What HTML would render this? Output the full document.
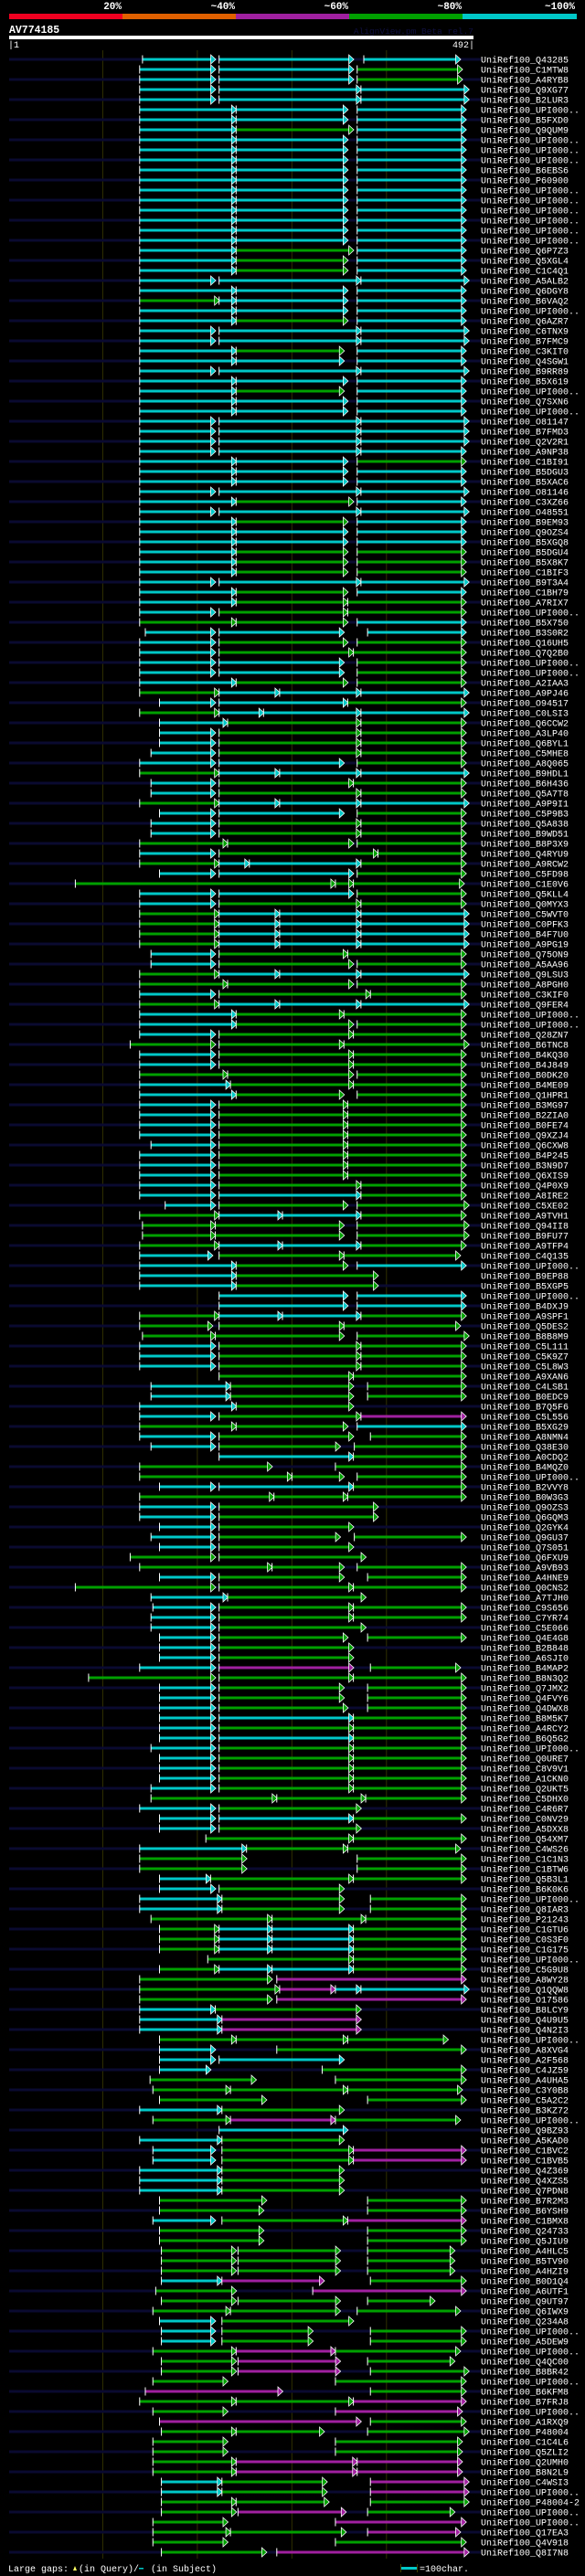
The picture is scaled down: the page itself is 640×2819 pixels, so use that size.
<!DOCTYPE html>
<html><head><meta charset="utf-8"><title>AV774185 alignment view</title>
<style>
html,body{margin:0;padding:0;background:#000;}
svg{display:block;}
text{font-family:"Liberation Mono","DejaVu Sans Mono",monospace;}
</style></head>
<body>
<svg id="chart" xmlns="http://www.w3.org/2000/svg" width="640" height="2819" viewBox="0 0 640 2819">
<rect x="0" y="0" width="640" height="2819" fill="#000"/>
<g>
<text x="133" y="10" fill="#fff" font-size="11" font-weight="bold" text-anchor="end">20%</text>
<text x="257" y="10" fill="#fff" font-size="11" font-weight="bold" text-anchor="end">~40%</text>
<text x="381" y="10" fill="#fff" font-size="11" font-weight="bold" text-anchor="end">~60%</text>
<text x="505" y="10" fill="#fff" font-size="11" font-weight="bold" text-anchor="end">~80%</text>
<text x="629" y="10" fill="#fff" font-size="11" font-weight="bold" text-anchor="end">~100%</text>
<rect x="10" y="15" width="124" height="6" fill="#f00020"/>
<rect x="134" y="15" width="124" height="6" fill="#e06000"/>
<rect x="258" y="15" width="124" height="6" fill="#a020a0"/>
<rect x="382" y="15" width="124" height="6" fill="#00a000"/>
<rect x="506" y="15" width="125" height="6" fill="#00c8c8"/>
</g>
<text x="10" y="36" fill="#fff" font-size="11.5" font-weight="bold">AV774185</text>
<text x="518" y="37" fill="#101040" font-size="9.5" text-anchor="end">AlignView.pm Beta rel.7</text>
<rect x="10" y="39" width="508" height="4" fill="#fff"/>
<text x="9" y="52" fill="#fff" font-size="10">|1</text>
<text x="519" y="52" fill="#fff" font-size="10" text-anchor="end">492|</text>
<g id="grid"></g>
<g id="rows"></g>
<g>
<text x="9" y="2814" fill="#fff" font-size="10">Large gaps:</text>
<polygon points="80,2813 82,2808 84,2813" fill="#ffff60"/>
<text x="86" y="2814" fill="#fff" font-size="10">(in Query)/</text>
<rect x="152" y="2810" width="5" height="1.5" fill="#00c8c8"/>
<text x="165" y="2814" fill="#fff" font-size="10">(in Subject)</text>
<rect x="438" y="2809" width="19" height="3" fill="#00c8c8"/>
<rect x="438" y="2806" width="1" height="9" fill="#404000"/>
<rect x="456" y="2806" width="1" height="9" fill="#404000"/>
<text x="459" y="2814" fill="#fff" font-size="10">=100char.</text>
</g>
</svg>
<script>
const queryLength = 492;
const gridPositions = [100, 200, 300, 400];
const labels = ["Q43285","C1MTW8","A4RYB8","Q9XG77","B2LUR3","UPI000..","B5FXD0","Q9QUM9","UPI000..","UPI000..","UPI000..","B6EBS6","P60900","UPI000..","UPI000..","UPI000..","UPI000..","UPI000..","UPI000..","Q6P7Z3","Q5XGL4","C1C4Q1","A5ALB2","Q6DGY8","B6VAQ2","UPI000..","Q6AZR7","C6TNX9","B7FMC9","C3KIT0","Q4SGW1","B9RR89","B5X619","UPI000..","Q7SXN6","UPI000..","O81147","B7FMD3","Q2V2R1","A9NP38","C1BI91","B5DGU3","B5XAC6","O81146","C3XZ66","O48551","B9EM93","Q9OZS4","B5XGQ8","B5DGU4","B5X8K7","C1BIF3","B9T3A4","C1BH79","A7RIX7","UPI000..","B5X750","B3S0R2","Q16UH5","Q7Q2B0","UPI000..","UPI000..","A2IAA3","A9PJ46","O94517","C0LSI3","Q6CCW2","A3LP40","Q6BYL1","C5MHE8","A8Q065","B9HDL1","B6H436","Q5A7T8","A9P9I1","C5P9B3","Q5A838","B9WD51","B8P3X9","Q4RYU9","A9RCW2","C5FD98","C1E0V6","Q5KLL4","Q0MYX3","C5WVT0","C0PFK3","B4F7U0","A9PG19","Q75ON9","A5AA96","Q9LSU3","A8PGH0","C3KIF0","Q9FER4","UPI000..","UPI000..","Q28ZN7","B6TNC8","B4KQ30","B4J849","B0DK20","B4ME09","Q1HPR1","B3MG97","B2ZIA0","B0FE74","Q9XZJ4","Q6CXW8","B4P245","B3N9D7","Q6XIS9","Q4P0X9","A8IRE2","C5XE02","A9TVH1","Q94II8","B9FU77","A9TFP4","C4Q135","UPI000..","B9EP88","B5XGP5","UPI000..","B4DXJ9","A9SPF1","Q5DES2","B8B8M9","C5L111","C5K9Z7","C5L8W3","A9XAN6","C4LSB1","B0EDC9","B7Q5F6","C5L556","B5XG29","A8NMN4","Q38E30","A0CDQ2","B4MQZ0","UPI000..","B2VVY8","B0W3G3","Q9OZS3","Q6GQM3","Q2GYK4","Q9GU37","Q7S051","Q6FXU9","A9VB93","A4HNE9","Q0CNS2","A7TJH0","C9S656","C7YR74","C5E066","Q4E4G8","B2B848","A6SJI0","B4MAP2","B8N3Q2","Q7JMX2","Q4FVY6","Q4DWX8","B8M5K7","A4RCY2","B6Q5G2","UPI000..","Q0URE7","C8V9V1","A1CKN0","Q2UKT5","C5DHX0","C4R6R7","C0NV29","A5DXX8","Q54XM7","C4WS26","C1C1N3","C1BTW6","Q5B3L1","B6K0K6","UPI000..","Q8IAR3","P21243","C1GTU6","C0S3F0","C1G175","UPI000..","C5G9U8","A8WY28","Q1QQW8","O17586","B8LCY9","Q4U9U5","Q4N2I3","UPI000..","A8XVG4","A2F568","C4JZ59","A4UHA5","C3Y0B8","C5A2C2","B3KZ72","UPI000..","Q9BZ93","A5KAD0","C1BVC2","C1BVB5","Q4Z369","Q4XZS5","Q7PDN8","B7R2M3","B6YSH9","C1BMX8","Q24733","Q5JIU9","A4HLC5","B5TV90","A4HZI9","B0D1Q4","A6UTF1","Q9UT97","Q6IWX9","Q234A8","UPI000..","A5DEW9","UPI000..","Q4QC00","B8BR42","UPI000..","B6KFM8","B7FRJ8","UPI000..","A1RXQ9","P48004","C1C4L6","Q5ZLI2","Q2UMH0","B8N2L9","C4WSI3","UPI000..","P48004-2","UPI000..","UPI000..","Q17EA3","Q4V918","Q8I7N8"];
const alignments = [
"142-219c 223-365c 376-478c","139-219c 223-365c 369-480g","139-219c 223-365c 369-480g","139-219c 223-373c 373-487c","139-219c 223-373c 373-487c","139-241c 241-359c 369-484c","139-241c 241-359c 369-484c","139-241c 241-365g 369-484c",
"139-241c 241-359c 369-484c","139-241c 241-359c 369-484c","139-241c 241-359c 369-484c","139-241c 241-359c 369-484c","139-241c 241-359c 369-484c","139-241c 241-359c 369-484c","139-241c 241-359c 369-484c","139-241c 241-359c 369-484c","139-241c 241-359c 369-484c","139-241c 241-359c 369-484c","139-241c 241-359c 369-484c",
"139-241c 241-365g 369-484c","139-241c 241-359g 369-484c","139-241c 241-359g 369-484c","139-219c 223-373c 373-487c","139-241c 241-359c 369-484c","139-223g 223-241c 241-359c 369-484c","139-241c 241-359c 369-484c","139-241c 241-359g 369-484c","139-219c 223-373c 373-487c","139-219c 223-373c 373-487c",
"139-241c 241-355g 369-484c","139-241c 241-355c 369-484c","139-219c 223-373c 373-487c","139-241c 241-359c 369-484c","139-241c 241-355g 369-484c","139-241c 241-359c 369-484c","139-241c 241-359c 369-484c","139-219c 223-373c 373-487c","139-219c 223-373c 373-487c","139-219c 223-373c 373-487c","139-219c 223-373c 373-484c",
"139-241c 241-359c 369-484g","139-241c 241-359c 369-484c","139-241c 241-359c 369-484c","139-219c 223-373c 373-487c","139-241c 241-365g 369-484c","139-219c 223-373c 373-487c","139-241c 241-359g 369-484c","139-241c 241-359c 369-484c","139-241c 241-359c 369-484c",
"139-241c 241-359g 369-484g","139-241c 241-359g 369-484g","139-241c 241-359g 369-484g","139-219c 223-373c 373-487c","139-241c 241-359g 369-484c","139-241c 241-359g 359-484g","139-219c 223-359g 359-484g","139-241g 241-359g 369-484c","145-219c 223-355c 380-484c","139-219c 223-359g 369-484g","139-219c 223-365g 365-484g",
"139-219c 223-355c 369-484g","139-219c 223-355c 369-484g","139-241c 241-359g 369-484g","139-223g 223-287c 287-373c 373-487c","160-219c 223-359c 359-484g","139-223g 223-270c 270-373c 373-487c","160-232c 232-373g 373-484g","160-219c 223-373g 373-484g","160-219c 223-373g 373-484g","151-219c 223-373g 373-484g",
"139-219c 223-355c 369-484g","139-223g 223-287c 287-373c 373-487c","151-219c 223-365g 365-484g","151-219c 223-373g 373-484g","139-223g 223-287c 287-373c 373-487c","160-219c 223-355c 369-484g","151-219c 223-373g 373-484g","151-219c 223-373g 373-484g","139-232g 232-365g 369-484g","139-219c 223-391g 391-484g",
"139-223g 223-255c 255-373c 373-484g","160-219c 223-365c 369-484g","71-346g 346-365g 365-482g","139-219c 223-365c 369-484g","139-219c 223-373g 373-484g","139-223g 223-287c 287-373c 373-487c","139-223g 223-287c 287-373c 373-487c","139-223g 223-287c 287-373c 373-487c","139-223g 223-287c 287-373c 373-487c",
"151-219c 223-359g 359-484g","151-219c 223-365g 369-484g","139-223g 223-287c 287-373c 373-487c","139-232g 232-365g 369-484g","139-219c 223-383g 383-484g","139-223g 223-287c 287-373c 373-487c","139-241c 241-355g 355-484g","139-241c 241-365g 369-484g","139-219c 223-365g 365-484g","129-219g 223-355g 355-487g",
"139-219c 223-365g 365-484g","139-219c 223-365g 365-484g","139-232g 232-365g 369-484g","139-235c 235-365g 365-484g","139-241c 241-355g 369-484g","139-219c 223-359g 359-484g","139-219c 223-359g 359-484g","139-219c 223-359g 359-484g","139-219c 223-359g 359-484g","151-219c 223-359g 359-484g",
"139-219c 223-359g 359-484g","139-219c 223-359g 359-484g","139-219c 223-359g 359-484g","139-219c 223-373g 373-484g","139-219c 223-373c 373-484g","166-219c 223-359g 369-487g","139-223g 223-290c 290-373c 373-484g","142-219g 219-355g 369-487g","142-219g 219-355g 369-487g","139-223g 223-290c 290-373c 373-484g",
"139-216c 223-355g 355-478g","139-241c 241-359g 369-484c","139-241c 241-391g","139-241c 241-391g","223-359c 369-484c","223-359c 369-484c","139-223g 223-290c 290-373c 373-484g","139-216g 223-355g 355-478g","142-219g 219-355g 369-487g","139-219c 223-373g 373-484g",
"139-219c 223-373g 373-484g","139-219c 223-373g 373-484g","223-365g 365-484g","151-235c 235-365g 380-484g","151-235c 235-365g 380-484g","139-241c 241-365g","139-219c 223-373g 373-484m","139-241g 241-359g 369-484c","139-219c 223-365g 383-484g","151-219c 223-351g 366-484g",
"223-365c 365-484g","139-279g 346-484g","139-300g 300-355g 369-484g","160-219c 223-365c 365-484g","139-281g 281-359g 359-484g","139-219c 223-391g","139-219c 223-391g","160-219c 223-365g","151-219c 223-351g 366-484g","160-219c 223-365g",
"129-219g 223-378g","139-279g 279-355g 369-484g","160-219c 223-355g 380-484g","71-219g 223-365g 365-484g","151-232c 232-378g","153-219c 223-365g 365-484g","151-219c 223-365g 365-484g","151-219c 223-378g","160-219c 223-359g 380-484g","160-219c 223-365g",
"160-219c 223-365g","139-219c 223-365m 383-478g","85-219g 223-365g 365-484g","160-219c 223-355g 380-484g","160-219c 223-355g 380-484g","160-219c 223-359g 380-484g","160-219c 223-365c 365-484g","160-219c 223-365g 365-484g","160-219c 223-365c 365-484g","151-219c 223-365g 365-484g",
"160-219c 223-365g 365-484g","160-219c 223-365g 365-484g","160-219c 223-365g 365-484g","151-219c 223-365g 365-484g","151-284g 284-378g 378-484g","139-219c 223-373g","160-219c 223-365c 365-484g","160-219c 223-373g","209-365g 365-484g","139-252c 252-359g 359-478g",
"139-252g 369-484g","139-252g 369-484g","160-214c 214-365g 365-484g","160-219c 223-355g","139-226c 226-355g 383-484g","139-226c 226-355g 383-484g","151-279g 279-378g 378-484g","160-223g 223-279c 279-365c 365-484g","160-223g 223-279c 279-365c 365-484g","160-223g 223-279c 279-365c 365-484g",
"211-365g 365-484g","160-223g 223-279c 279-365c 365-484g","139-279g 284-484m","139-287g 287-346m 346-373c 373-487c","139-279g 284-484m","139-219c 219-373g","139-226c 226-373m","139-226c 226-373m","160-241g 241-359g 359-465g","160-219c 284-484g",
"160-219c 223-355c","160-214c 332-484g","150-262g 346-484g","153-235g 235-359g 359-480g","160-273g 380-484g","139-226c 226-355g","153-235g 235-346m 346-478g","223-359c","139-226c 226-355g","153-219c 226-365g 365-484m",
"153-219c 226-365g 365-484m","139-226c 226-355g","139-226c 226-355g","139-226c 226-355g","160-273g 380-484g","160-270g 380-484g","153-219c 226-359g 359-484m","160-270g 380-484g","160-270g 380-484g","162-241g 243-351g 380-472g",
"162-241g 243-351g 380-472g","162-241g 243-351g 380-472g","162-226c 226-334m 383-484g","156-241g 322-484m","162-241g 243-351g 380-451g","153-235g 235-351g 369-478g","160-219c 226-365g","162-219c 226-322g 383-484g","162-219c 226-322g 383-484g","153-241g 241-346m 346-478g",
"162-241g 243-351m 380-472g","162-241g 243-351m 383-487g","153-232g 346-484g","145-290m 383-484g","139-241g 241-365g 365-484m","153-232g 346-480m","160-373m 383-484g","162-241g 241-334g 380-487g","153-232g 346-480g","153-232g 346-480g",
"153-241g 241-369m 369-480m","153-241g 241-369m 369-480m","162-226c 226-337g 383-487m","162-226c 226-337g 383-487m","162-241g 241-339g 383-487g","162-241g 243-357m 380-472g","153-232g 346-484m","153-235g 235-357g 380-478m","153-232g 346-484g","162-273g 284-487m"
];
const colorMap = {c:"#00c8c8", g:"#00a000", m:"#a020a0"};
const NS = "http://www.w3.org/2000/svg";
const X0 = 10, X1 = 518, ROW0 = 65, PITCH = 11, LABEL_X = 526;
function xScale(p){ return X0 + (p - 1) * (X1 - X0) / (queryLength - 1); }
function yScale(i){ return ROW0 + i * PITCH; }
function mk(tag, attrs){ const e = document.createElementNS(NS, tag); for (const k in attrs) e.setAttribute(k, attrs[k]); return e; }

const grid = document.getElementById('grid');
gridPositions.forEach(function(p){
  const l = mk('line', {x1:xScale(p), x2:xScale(p), y1:55, y2:2800, stroke:'#303000', 'stroke-width':1});
  
  
  grid.appendChild(l);
});

const rowsG = document.getElementById('rows');
alignments.forEach(function(str, i){
  const y = yScale(i);
  const g = mk('g', {});
  
  
  if (i % 2 === 0) {
    const bg = mk('rect', {x:X0, y:y-1.5, width:LABEL_X-X0, height:3, fill:'#0a0a30'});
    
    
    g.appendChild(bg);
  }
  str.split(' ').forEach(function(tok){
    const m = tok.match(/^(\d+)-(\d+)([cgm])$/);
    if (!m) return;
    const s = xScale(+m[1]), e = xScale(+m[2]), col = colorMap[m[3]];
    const seg = mk('rect', {x:s, y:y-1.5, width:Math.max(1, e - s - 3), height:3, fill:col});
    
    
    g.appendChild(seg);
    const tick = mk('rect', {x:s-0.5, y:y-4.5, width:1, height:9, fill:'#fff'});
    
    
    g.appendChild(tick);
    const arr = mk('polygon', {points:(e-5)+','+(y-5)+' '+(e+0.5)+','+y+' '+(e-5)+','+(y+5), fill:col, stroke:'#fff', 'stroke-width':0.8});
    
    
    g.appendChild(arr);
  });
  const t = mk('text', {x:LABEL_X, y:y+3.5, fill:'#fff', 'font-size':10});
  t.textContent = 'UniRef100_' + labels[i];
  
  
  g.appendChild(t);
  rowsG.appendChild(g);
});
</script>
</body></html>
